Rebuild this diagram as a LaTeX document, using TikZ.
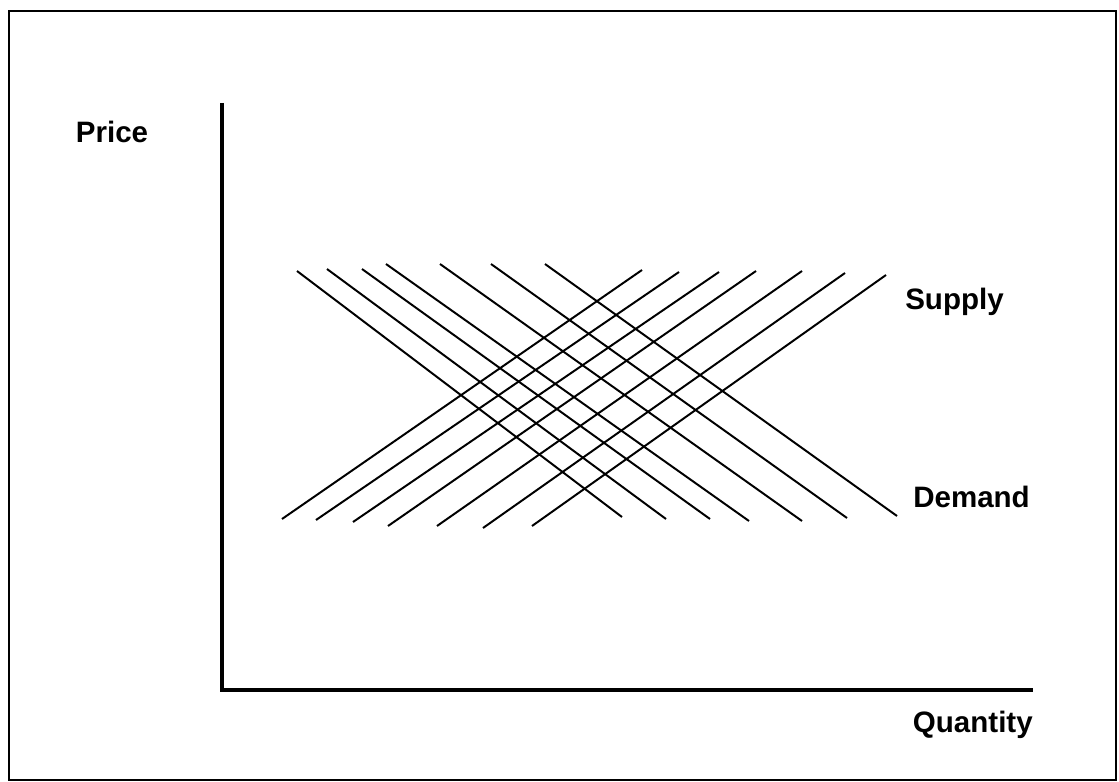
\documentclass[tikz,border=0pt]{standalone}
\usepackage{fontspec}
\setmainfont{Liberation Sans}
\usepackage{tikz}
\usetikzlibrary{positioning,calc}
\tikzset{
	x=0.025cm, y=-0.025cm,% one unit is one pixel of the original picture
	line join=round
}

\begin{document}
\begin{tikzpicture}
            \tikzset{my label/.style = {inner sep=0pt, font=\fontsize{21}{24}\selectfont\bfseries}}
            \tikzset{my curve/.style = {-, line width=1.4pt}}
            \tikzset{my axis/.style = {-, line width=2.8pt}}
            \useasboundingbox (0,0) rectangle (1119,782);
            \draw[line width=2pt] (9,11) rectangle (1116,780);
            % axes
            \coordinate (top) at (222,103);
            \coordinate (O) at (222,690);
            \coordinate (right) at (1033,690);
            \draw[my axis] (top) -- (O) -- (right);
            \node[my label] (price) at (112,132) {Price};
            \node[my label,anchor=north east] (quantity) at (right |- 0,711) {Quantity};
            % demand curves
            \foreach \xa/\ya/\xb/\yb in {297/271/622/517, 327/269/666/519, 362/269/710/519,
                386/264/749/521, 440/264/802/521, 491/264/847/518, 545/264/897/516}
                \draw[my curve] (\xa,\ya) -- (\xb,\yb);
            % supply curves
            \foreach \xa/\ya/\xb/\yb in {282/519/642/270, 316/520/679/272, 353/522/719/272,
                388/526/756/271, 437/526/802/271, 483/528/845/273, 532/526/886/275}
                \draw[my curve] (\xa,\ya) -- (\xb,\yb);
            \node[my label,anchor=west] (supply) at (905,302) {Supply};
            \node[my label,anchor=west] (demand) at (913,497) {Demand};
        \end{tikzpicture}
\end{document}
